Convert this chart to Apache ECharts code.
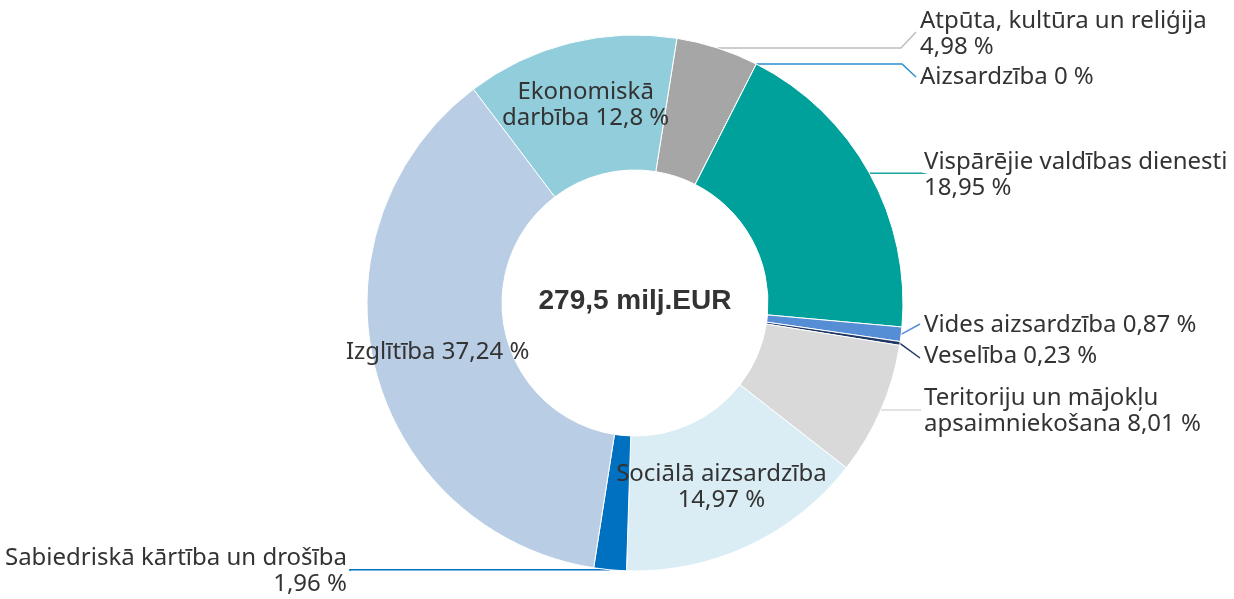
<!DOCTYPE html>
<html>
<head>
<meta charset="utf-8">
<script src="https://cdn.jsdelivr.net/npm/echarts@6/dist/echarts.min.js"></script>
<style>
  html, body { margin: 0; padding: 0; background: #fff; }
  #main { width: 1234px; height: 599px; }
</style>
</head>
<body>
<div id="main"></div>
<script>
// budžeta izdevumi pa funkcijām, %
var names = ['Atpūta, kultūra un reliģija', 'Aizsardzība', 'Vispārējie valdības dienesti',
  'Vides aizsardzība', 'Veselība', 'Teritoriju un mājokļu apsaimniekošana',
  'Sociālā aizsardzība', 'Sabiedriskā kārtība un drošība', 'Izglītība', 'Ekonomiskā darbība'];
var values = [4.98, 0, 18.95, 0.87, 0.23, 8.01, 14.97, 1.96, 37.24, 12.8];
var labelText = ['Atpūta, kultūra un reliģija\n4,98 %', 'Aizsardzība 0 %', 'Vispārējie valdības dienesti\n18,95 %',
  'Vides aizsardzība 0,87 %', 'Veselība 0,23 %', 'Teritoriju un mājokļu\napsaimniekošana 8,01 %',
  'Sociālā aizsardzība\n14,97 %', 'Sabiedriskā kārtība un drošība\n1,96 %', 'Izglītība 37,24 %', 'Ekonomiskā\ndarbība 12,8 %'];
var colors = ['#a6a6a6', '#2a8fd0', '#00a19a', '#558ed5', '#1f3864', '#d9d9d9', '#daedf4', '#0070c0', '#b9cde5', '#92cddc'];
var lineColors = ['#bdbdbd', '#2a8fd0', '#1aa5a0', '#558ed5', '#1f3864', '#d9d9d9', null, '#0070c0', null, null];
var totalText = '279,5 milj.EUR';

// kur novietot ārējos uzrakstus
var spots = {
  0: {x: 920, y: 34, endY: 32, bendX: 901, align: 'left'},
  1: {x: 920, y: 77, endY: 77, bendX: 902, align: 'left'},
  2: {x: 924, y: 175, endY: 173, bendX: 921, align: 'left'},
  3: {x: 924, y: 325, endY: 324, bendX: null, align: 'left'},
  4: {x: 924, y: 356, endY: 358, bendX: null, align: 'left'},
  5: {x: 924, y: 411, endY: 410, bendX: 921, align: 'left'},
  7: {x: 347, y: 571, endY: 571, bendX: 350, align: 'right'}
};

var data = [];
for (var i = 0; i < names.length; i++) {
  var outside = spots[i] != null;
  data.push({
    name: names[i],
    value: values[i],
    itemStyle: {color: colors[i]},
    label: {position: outside ? 'outside' : 'inside', formatter: labelText[i]},
    labelLine: {show: outside, lineStyle: {color: lineColors[i] || colors[i], width: 1.5}}
  });
}

var myChart = echarts.init(document.getElementById('main'));
var option = {
  animation: false,
  graphic: [{
    type: 'text',
    x: 635, y: 301,
    style: {
      text: totalText, align: 'center', verticalAlign: 'middle',
      fontFamily: 'Liberation Sans, Arial', fontWeight: 'bold', fontSize: 28, fill: '#333'
    }
  }],
  series: [{
    type: 'pie',
    center: [635, 303],
    radius: [133, 268],
    startAngle: 81,
    clockwise: true,
    avoidLabelOverlap: false,
    itemStyle: {borderColor: '#fff', borderWidth: 1},
    label: {
      fontFamily: 'Noto Sans', fontSize: 24, lineHeight: 26, color: '#333', align: 'center'
    },
    labelLayout: function (p) {
      var s = spots[p.dataIndex];
      if (!s) return {};
      var st = p.labelLinePoints[0];
      var endX = s.align === 'left' ? s.x - 4 : s.x + 3;
      var pts;
      if (s.bendX == null) {
        pts = [st, st, [endX, s.endY]];
      } else {
        pts = [st, [s.bendX, st[1]], [endX, s.endY]];
      }
      return {x: s.x, y: s.y, align: s.align, verticalAlign: 'middle', labelLinePoints: pts};
    },
    emphasis: {disabled: true},
    data: data
  }]
};
myChart.setOption(option);
</script>
</body>
</html>
